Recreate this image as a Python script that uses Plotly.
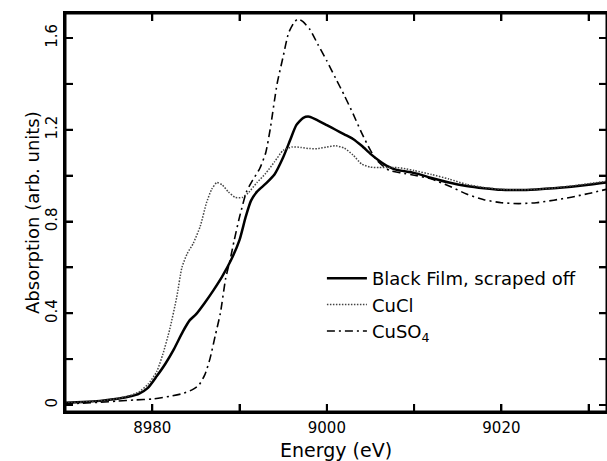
import plotly.graph_objects as go

# Black film, scraped off
bf_x = [8970, 8972, 8974, 8976, 8977.5, 8978.5, 8979.5, 8980.5, 8981.5, 8982.5, 8983.5, 8984.3, 8985,
        8986, 8987, 8988, 8989, 8990, 8990.7, 8991.3, 8992, 8993, 8994, 8995, 8995.8, 8996.5, 8997.3,
        8998, 8999, 9000, 9001, 9002, 9003, 9004, 9005, 9006, 9007, 9008, 9010, 9012, 9014, 9016,
        9018, 9020, 9022, 9024, 9026, 9028, 9030, 9032]
bf_y = [0.010, 0.013, 0.018, 0.027, 0.038, 0.050, 0.075, 0.125, 0.180, 0.245, 0.320, 0.370, 0.395,
        0.445, 0.500, 0.560, 0.630, 0.720, 0.820, 0.890, 0.930, 0.965, 1.005, 1.080, 1.155, 1.220, 1.252,
        1.257, 1.240, 1.220, 1.200, 1.180, 1.160, 1.130, 1.095, 1.065, 1.040, 1.025, 1.012, 0.990, 0.970, 0.955,
        0.945, 0.938, 0.937, 0.940, 0.945, 0.952, 0.960, 0.970]

# CuCl
cucl_x = [8970, 8972, 8974, 8976, 8977.5, 8978.5, 8979.5, 8980.5, 8981.2, 8982, 8982.8, 8983.4, 8984,
          8984.7, 8985.5, 8986.2, 8986.8, 8987.4, 8988, 8988.7, 8989.5, 8990.3, 8991, 8992, 8993, 8994,
          8995, 8996, 8997, 8998, 8999, 9000, 9001, 9002, 9003, 9004, 9005, 9006, 9007, 9008, 9009, 9010,
          9012, 9014, 9016, 9018, 9020, 9022, 9024, 9026, 9028, 9030, 9032]
cucl_y = [0.010, 0.013, 0.018, 0.028, 0.042, 0.058, 0.090, 0.145, 0.220, 0.330, 0.470, 0.600, 0.660,
          0.705, 0.780, 0.880, 0.940, 0.970, 0.960, 0.930, 0.905, 0.905, 0.925, 0.970, 1.010, 1.060,
          1.110, 1.125, 1.123, 1.118, 1.118, 1.125, 1.130, 1.120, 1.090, 1.050, 1.037, 1.035, 1.035, 1.035, 1.030, 1.022,
          1.005, 0.985, 0.962, 0.948, 0.940, 0.938, 0.940, 0.946, 0.955, 0.965, 0.975]

# CuSO4
cuso4_x = [8970, 8972, 8974, 8976, 8978, 8980, 8982, 8983.5, 8984.5, 8985.3, 8986, 8986.6, 8987.2,
           8987.8, 8988.4, 8988.9, 8989.4, 8990, 8990.8, 8991.5, 8992.3, 8993, 8993.5, 8994.3, 8995,
           8995.6, 8996.2, 8996.7, 8997.3, 8998.1, 8999, 9000, 9001, 9002, 9003, 9004,
           9005, 9005.7, 9006.5, 9007.2, 9008.5, 9010.3, 9012, 9014, 9016, 9018, 9020, 9022, 9024, 9026,
           9028, 9030, 9032]
cuso4_y = [0.005, 0.008, 0.012, 0.017, 0.022, 0.026, 0.038, 0.050, 0.065, 0.085, 0.130, 0.200, 0.300,
           0.400, 0.550, 0.630, 0.720, 0.820, 0.930, 0.980, 1.030, 1.100, 1.200, 1.400, 1.520,
           1.620, 1.665, 1.683, 1.670, 1.635, 1.570, 1.500, 1.425, 1.350, 1.270, 1.185,
           1.110, 1.068, 1.040, 1.022, 1.012, 1.000, 0.985, 0.955, 0.920, 0.895, 0.882, 0.878, 0.882, 0.893,
           0.906, 0.922, 0.940]

# Tick positions and labels (every other tick unlabeled)
x_tickvals = [8970, 8980, 8990, 9000, 9010, 9020, 9030]
x_ticktext = ["", "8980", "", "9000", "", "9020", ""]
y_tickvals = [0, 0.2, 0.4, 0.6, 0.8, 1.0, 1.2, 1.4, 1.6]
y_ticktext = ["0", "", "0.4", "", "0.8", "", "1.2", "", "1.6"]

x_range = [8970, 9032.1]
y_range = [-0.0305, 1.709]

FONT = "DejaVu Sans"
W, H = 607, 461
ML, MR, MT, MB = 65, 0, 13, 49
TICK_PX = 8

# tick length expressed in data units (derived from the axis ranges and plot size)
plot_w = W - ML - MR
plot_h = H - MT - MB
dx_tick = TICK_PX * (x_range[1] - x_range[0]) / plot_w
dy_tick = TICK_PX * (y_range[1] - y_range[0]) / plot_h

fig = go.Figure()
fig.add_trace(go.Scatter(x=bf_x, y=bf_y, mode="lines", name="Black Film, scraped off",
                         line=dict(color="black", width=2.5, shape="spline", smoothing=0.6)))
fig.add_trace(go.Scatter(x=cucl_x, y=cucl_y, mode="lines", name="CuCl",
                         line=dict(color="#444444", width=1.5, dash="1.5px,1.5px", shape="spline", smoothing=0.6)))
fig.add_trace(go.Scatter(x=cuso4_x, y=cuso4_y, mode="lines", name="CuSO<sub>4</sub>",
                         line=dict(color="black", width=1.6, dash="8px,4px,2px,4px", shape="spline", smoothing=0.6)))

# frame and tick marks on all four sides, built from the ranges and tick arrays
x0, x1 = x_range
y0, y1 = y_range
fx = [x0, x1, x1, x0, x0]
fy = [y0, y0, y1, y1, y0]
tx, ty = [], []
for xv in x_tickvals:
    if x0 <= xv <= x1:
        tx += [xv, xv, None, xv, xv, None]
        ty += [y0, y0 + dy_tick, None, y1, y1 - dy_tick, None]
for yv in y_tickvals:
    if y0 <= yv <= y1:
        tx += [x0, x0 + dx_tick, None, x1, x1 - dx_tick, None]
        ty += [yv, yv, None, yv, yv, None]
fig.add_trace(go.Scatter(x=fx, y=fy, mode="lines", line=dict(color="black", width=3),
                         showlegend=False, hoverinfo="skip"))
fig.add_trace(go.Scatter(x=tx, y=ty, mode="lines", line=dict(color="black", width=2),
                         showlegend=False, hoverinfo="skip", connectgaps=False))

fig.update_layout(
    width=W, height=H,
    margin=dict(l=ML, r=MR, t=MT, b=MB, autoexpand=False),
    plot_bgcolor="white", paper_bgcolor="white",
    font=dict(family=FONT, color="black", size=15),
    showlegend=True,
    legend=dict(x=0.474, y=0.381, xanchor="left", yanchor="top", itemwidth=40,
                bgcolor="rgba(0,0,0,0)", font=dict(size=18, family=FONT)),
    annotations=[
        dict(text="Absorption (arb. units)", textangle=-90, showarrow=False,
             xref="paper", yref="paper", x=-0.06, y=0.5,
             xanchor="center", yanchor="middle", font=dict(size=18, family=FONT)),
        dict(text="Energy (eV)", showarrow=False,
             xref="paper", yref="paper", x=0.5, y=-0.096,
             xanchor="center", yanchor="middle", font=dict(size=19, family=FONT)),
    ],
)
fig.update_xaxes(
    range=x_range, showline=True, linecolor="black", linewidth=2, mirror="ticks",
    ticks="inside", ticklen=TICK_PX, tickwidth=2, tickcolor="black",
    tickmode="array", tickvals=x_tickvals, ticktext=x_ticktext,
    showgrid=False, zeroline=False, ticklabelstandoff=1,
    tickfont=dict(size=15, family=FONT),
)
fig.update_yaxes(
    range=y_range, showline=True, linecolor="black", linewidth=2, mirror="ticks",
    ticks="inside", ticklen=TICK_PX, tickwidth=2, tickcolor="black",
    tickmode="array", tickvals=y_tickvals, ticktext=y_ticktext, tickangle=-90,
    showgrid=False, zeroline=False,
    tickfont=dict(size=15, family=FONT),
)

fig.write_html("out.html", config={"displayModeBar": False},
               post_script="document.body.style.margin='0px';")
